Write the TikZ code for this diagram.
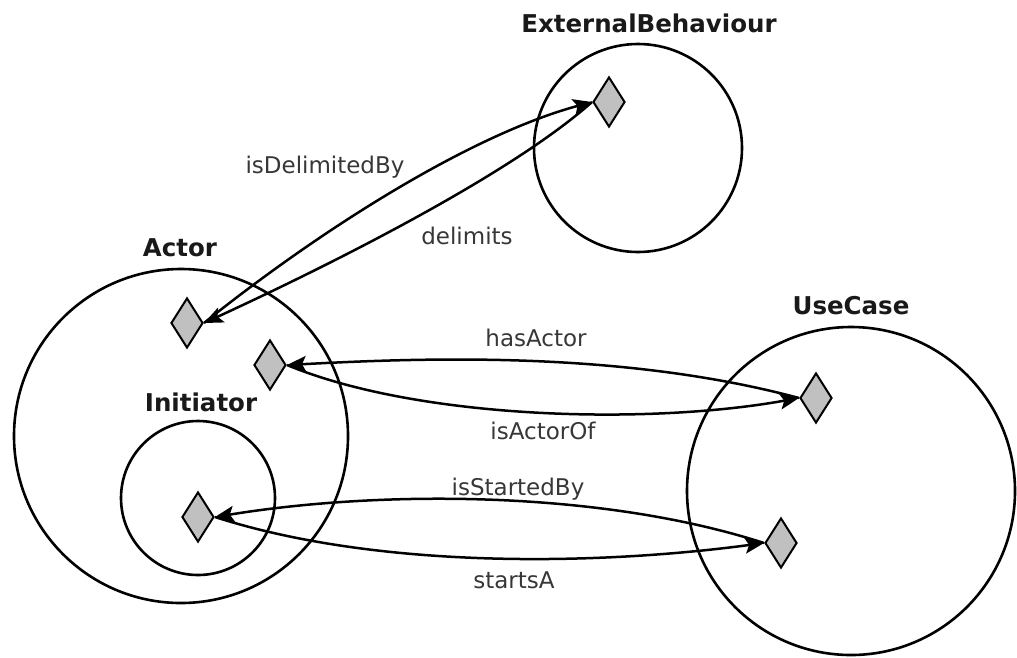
\documentclass[tikz,border=0pt]{standalone}
\usepackage{fontspec}
\setmainfont{DejaVu Sans}
\usetikzlibrary{shapes.geometric,arrows.meta}
\definecolor{dfill}{RGB}{192,192,192}
\definecolor{lbl}{RGB}{55,55,55}
\definecolor{ttl}{RGB}{25,25,25}
\begin{document}
\begin{tikzpicture}[x=1pt,y=-1pt,
  region/.style={circle,draw,line width=2.6pt,inner sep=0pt},
  term/.style={diamond,draw,line width=2pt,fill=dfill,minimum width=32pt,minimum height=50pt,inner sep=0pt},
  title/.style={font=\fontsize{24.5}{28}\selectfont\bfseries,text=ttl,inner sep=0pt,text height=17.9pt,text depth=0pt},
  rel/.style={font=\fontsize{23}{27}\selectfont,text=lbl,inner sep=0pt,text height=16.8pt,text depth=0pt},
  link/.style={line width=2.5pt,-{Stealth[length=19pt,width=16pt,inset=4pt]}}]
\useasboundingbox (0,0) rectangle (1017,657);
% regions
\node[region,minimum size=208pt] (ebc) at (638,148) {};
\node[region,minimum size=334pt] (actc) at (181,436) {};
\node[region,minimum size=154pt] (inic) at (198,498) {};
\node[region,minimum size=328pt] (ucc) at (851,491) {};
% titles
\node[title] (ebt) at (649,24) {ExternalBehaviour};
\node[title] (actt) at (180,248) {Actor};
\node[title] (init) at (201,403) {Initiator};
\node[title] (uct) at (851,306) {UseCase};
% terms
\node[term] (eb) at (609,102) {};
\node[term] (a1) at (187,323) {};
\node[term] (a2) at (270,365) {};
\node[term] (u1) at (816,398) {};
\node[term] (u2) at (781,543) {};
\node[term] (i1) at (198,517) {};
% links
\draw[link] (a1.east) .. controls (320,230) and (470,135) .. (eb.west);
\draw[link] (eb.west) .. controls (510,175) and (330,265) .. (a1.east);
\draw[link] (u1.west) .. controls (620,350) and (420,358) .. (a2.east);
\draw[link] (a2.east) .. controls (420,420) and (650,425) .. (u1.west);
\draw[link] (u2.west) .. controls (600,490) and (380,490) .. (i1.east);
\draw[link] (i1.east) .. controls (380,570) and (600,565) .. (u2.west);
% relation labels
\node[rel] (l1) at (325,165) {isDelimitedBy};
\node[rel] (l2) at (467,236) {delimits};
\node[rel] (l3) at (536,338) {hasActor};
\node[rel] (l4) at (543,431) {isActorOf};
\node[rel] (l5) at (518,487) {isStartedBy};
\node[rel] (l6) at (514,580) {startsA};
\end{tikzpicture}
\end{document}
